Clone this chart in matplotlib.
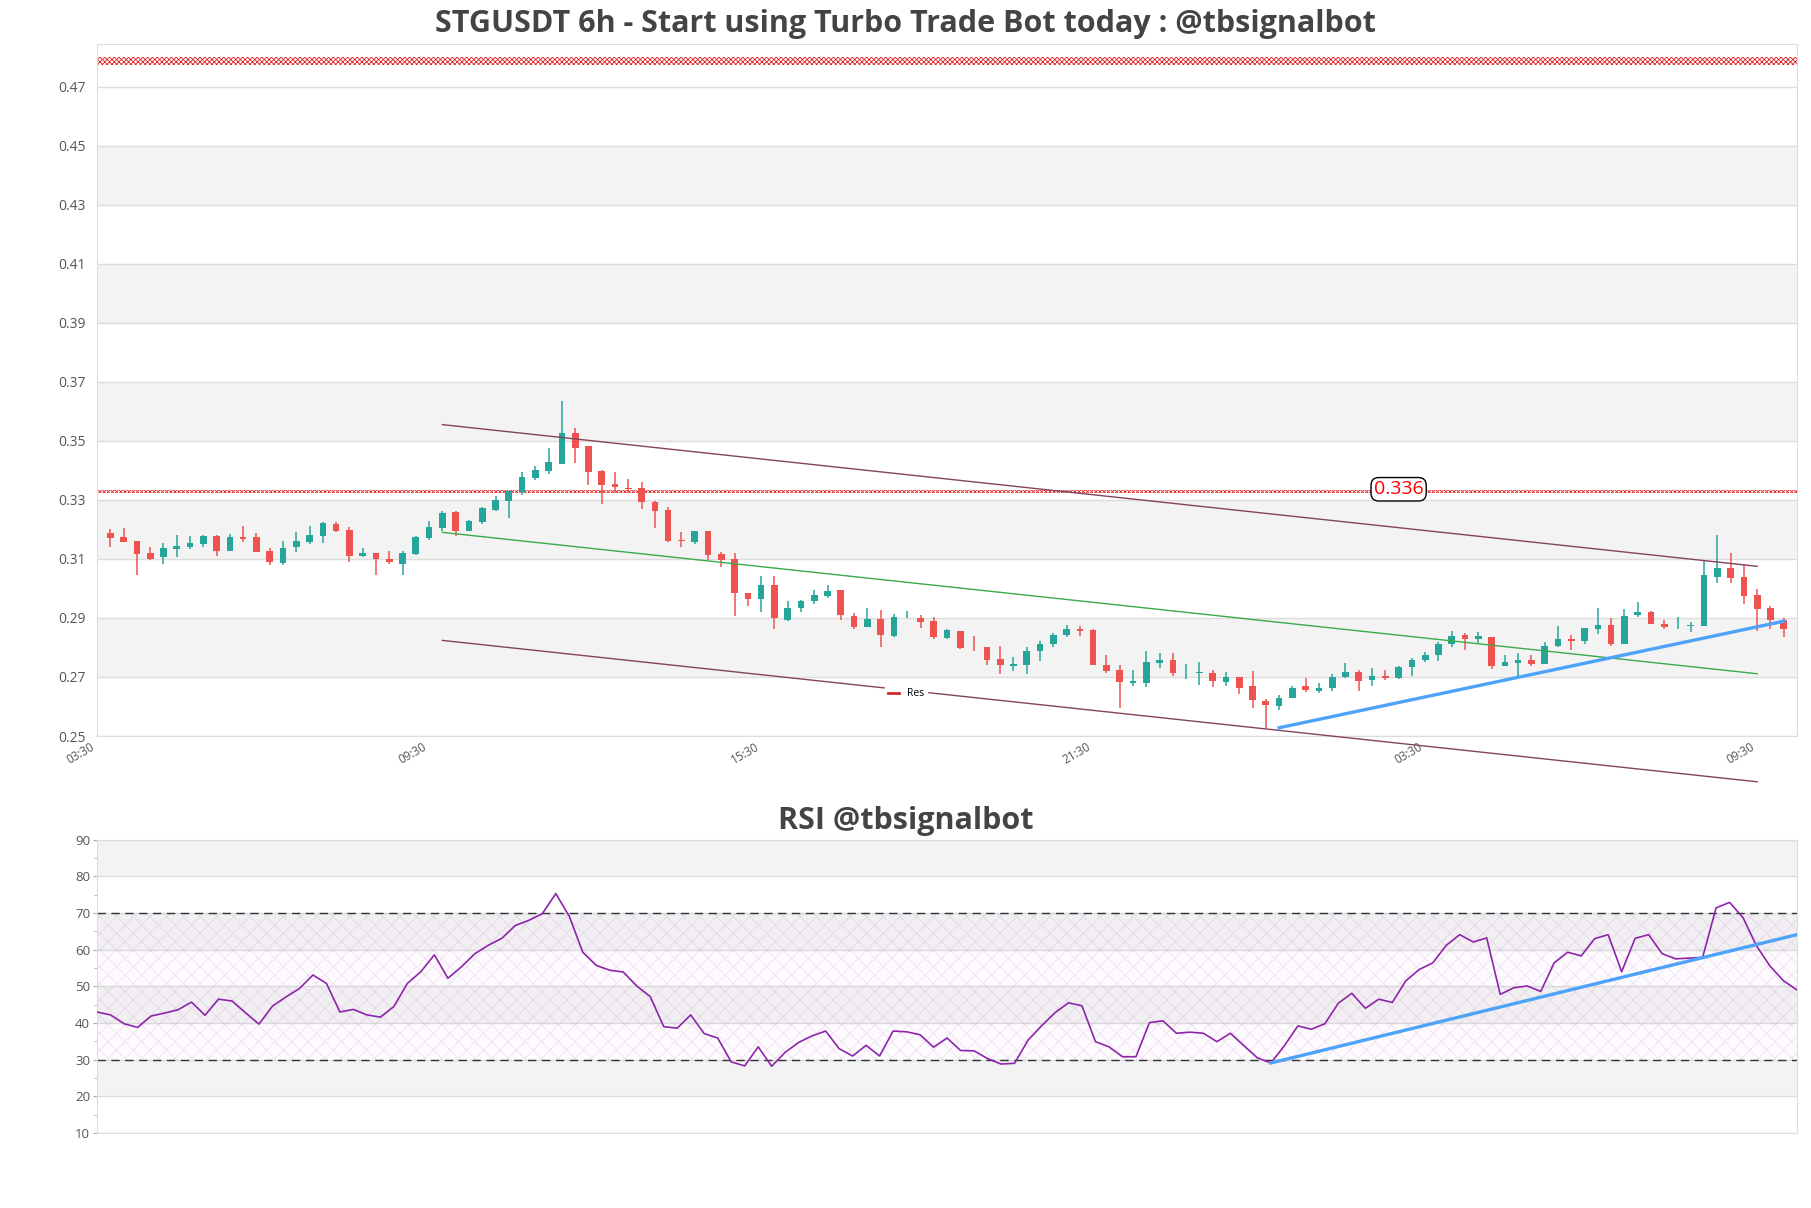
import matplotlib
matplotlib.use("Agg")
import matplotlib.pyplot as plt
import numpy as np
from matplotlib.lines import Line2D
from matplotlib.ticker import MultipleLocator

plt.rcParams['font.family'] = ['Open Sans', 'DejaVu Sans']
plt.rcParams['hatch.linewidth'] = 0.6

# candles
opens = [0.3188, 0.3175, 0.3161, 0.3120, 0.3105, 0.3135, 0.3141, 0.3152, 0.3178, 0.3128,
         0.3175, 0.3175, 0.3127, 0.3087, 0.3139, 0.3159, 0.3179, 0.3218, 0.3198, 0.3111,
         0.3120, 0.3101, 0.3084, 0.3117, 0.3172, 0.3206, 0.3259, 0.3196, 0.3226, 0.3266,
         0.3297, 0.3327, 0.3374, 0.3399, 0.3423, 0.3526, 0.3483, 0.3398, 0.3354, 0.3339,
         0.3340, 0.3293, 0.3266, 0.3163, 0.3159, 0.3195, 0.3117, 0.3100, 0.2984, 0.2963,
         0.3012, 0.2894, 0.2934, 0.2958, 0.2975, 0.2995, 0.2908, 0.2871, 0.2898, 0.2840,
         0.2899, 0.2901, 0.2891, 0.2833, 0.2857, 0.2803, 0.2803, 0.2762, 0.2736, 0.2740,
         0.2787, 0.2811, 0.2841, 0.2864, 0.2860, 0.2742, 0.2723, 0.2680, 0.2680, 0.2748,
         0.2756, 0.2713, 0.2715, 0.2715, 0.2682, 0.2700, 0.2668, 0.2619, 0.2601, 0.2629,
         0.2668, 0.2653, 0.2662, 0.2700, 0.2718, 0.2689, 0.2705, 0.2695, 0.2733, 0.2756,
         0.2773, 0.2813, 0.2841, 0.2828, 0.2837, 0.2736, 0.2748, 0.2756, 0.2744, 0.2806,
         0.2829, 0.2821, 0.2864, 0.2877, 0.2811, 0.2909, 0.2920, 0.2881, 0.2872, 0.2874,
         0.2874, 0.3039, 0.3070, 0.3039, 0.2979, 0.2935, 0.2894]
highs = [0.3202, 0.3205, 0.3161, 0.3141, 0.3154, 0.3181, 0.3178, 0.3182, 0.3180, 0.3185,
         0.3212, 0.3187, 0.3137, 0.3161, 0.3191, 0.3212, 0.3225, 0.3225, 0.3207, 0.3137,
         0.3120, 0.3127, 0.3128, 0.3178, 0.3230, 0.3261, 0.3261, 0.3232, 0.3275, 0.3312,
         0.3330, 0.3393, 0.3414, 0.3475, 0.3635, 0.3543, 0.3483, 0.3400, 0.3393, 0.3371,
         0.3360, 0.3296, 0.3275, 0.3191, 0.3195, 0.3195, 0.3124, 0.3119, 0.2984, 0.3043,
         0.3041, 0.2957, 0.2962, 0.2994, 0.3011, 0.2995, 0.2916, 0.2935, 0.2928, 0.2914,
         0.2925, 0.2910, 0.2903, 0.2864, 0.2857, 0.2840, 0.2803, 0.2806, 0.2767, 0.2800,
         0.2823, 0.2850, 0.2877, 0.2874, 0.2864, 0.2773, 0.2742, 0.2723, 0.2787, 0.2783,
         0.2783, 0.2743, 0.2750, 0.2723, 0.2717, 0.2700, 0.2720, 0.2625, 0.2640, 0.2669,
         0.2695, 0.2681, 0.2709, 0.2747, 0.2723, 0.2731, 0.2724, 0.2738, 0.2766, 0.2784,
         0.2820, 0.2857, 0.2848, 0.2854, 0.2837, 0.2776, 0.2783, 0.2773, 0.2819, 0.2874,
         0.2843, 0.2866, 0.2935, 0.2900, 0.2930, 0.2954, 0.2923, 0.2892, 0.2902, 0.2887,
         0.3095, 0.3181, 0.3121, 0.3079, 0.2999, 0.2941, 0.2901]
lows = [0.3139, 0.3159, 0.3046, 0.3098, 0.3084, 0.3108, 0.3132, 0.3139, 0.3110, 0.3128,
        0.3159, 0.3122, 0.3081, 0.3081, 0.3125, 0.3149, 0.3155, 0.3190, 0.3091, 0.3105,
        0.3046, 0.3084, 0.3044, 0.3115, 0.3164, 0.3196, 0.3179, 0.3196, 0.3218, 0.3261,
        0.3240, 0.3315, 0.3368, 0.3389, 0.3421, 0.3426, 0.3350, 0.3287, 0.3324, 0.3323,
        0.3269, 0.3206, 0.3158, 0.3139, 0.3152, 0.3095, 0.3074, 0.2905, 0.2939, 0.2919,
        0.2861, 0.2891, 0.2919, 0.2949, 0.2967, 0.2892, 0.2861, 0.2868, 0.2803, 0.2837,
        0.2899, 0.2867, 0.2828, 0.2828, 0.2794, 0.2789, 0.2740, 0.2709, 0.2720, 0.2709,
        0.2753, 0.2801, 0.2834, 0.2838, 0.2740, 0.2714, 0.2596, 0.2670, 0.2666, 0.2732,
        0.2703, 0.2693, 0.2672, 0.2666, 0.2669, 0.2643, 0.2596, 0.2526, 0.2588, 0.2629,
        0.2650, 0.2645, 0.2652, 0.2698, 0.2653, 0.2669, 0.2689, 0.2693, 0.2703, 0.2750,
        0.2753, 0.2802, 0.2791, 0.2813, 0.2726, 0.2736, 0.2699, 0.2736, 0.2744, 0.2802,
        0.2791, 0.2812, 0.2847, 0.2804, 0.2811, 0.2902, 0.2878, 0.2864, 0.2864, 0.2851,
        0.2872, 0.3019, 0.3019, 0.2949, 0.2856, 0.2864, 0.2834]
closes = [0.3172, 0.3159, 0.3118, 0.3101, 0.3137, 0.3144, 0.3154, 0.3178, 0.3128, 0.3175,
          0.3168, 0.3125, 0.3091, 0.3137, 0.3161, 0.3181, 0.3223, 0.3196, 0.3111, 0.3120,
          0.3101, 0.3091, 0.3120, 0.3175, 0.3208, 0.3256, 0.3196, 0.3229, 0.3273, 0.3300,
          0.3330, 0.3377, 0.3401, 0.3428, 0.3526, 0.3476, 0.3394, 0.3350, 0.3342, 0.3337,
          0.3294, 0.3264, 0.3161, 0.3161, 0.3195, 0.3115, 0.3098, 0.2983, 0.2963, 0.3012,
          0.2900, 0.2934, 0.2958, 0.2979, 0.2992, 0.2909, 0.2868, 0.2898, 0.2841, 0.2904,
          0.2901, 0.2887, 0.2837, 0.2860, 0.2797, 0.2800, 0.2757, 0.2740, 0.2744, 0.2789,
          0.2813, 0.2843, 0.2864, 0.2856, 0.2740, 0.2720, 0.2682, 0.2686, 0.2750, 0.2756,
          0.2713, 0.2715, 0.2717, 0.2687, 0.2700, 0.2662, 0.2623, 0.2605, 0.2629, 0.2663,
          0.2655, 0.2664, 0.2700, 0.2718, 0.2686, 0.2705, 0.2697, 0.2735, 0.2759, 0.2776,
          0.2812, 0.2839, 0.2828, 0.2840, 0.2736, 0.2752, 0.2756, 0.2744, 0.2805, 0.2829,
          0.2821, 0.2866, 0.2877, 0.2811, 0.2908, 0.2920, 0.2878, 0.2868, 0.2874, 0.2877,
          0.3045, 0.3070, 0.3037, 0.2976, 0.2931, 0.2892, 0.2864]

rsi = [43.0, 42.2, 39.8, 38.8, 41.9, 42.7, 43.6, 45.7, 42.1, 46.5,
       46.0, 42.8, 39.7, 44.6, 47.1, 49.4, 53.1, 50.8, 43.0, 43.7,
       42.2, 41.6, 44.5, 50.8, 54.0, 58.6, 52.2, 55.3, 58.9, 61.2,
       63.1, 66.6, 68.0, 69.8, 75.3, 69.1, 59.3, 55.7, 54.4, 53.9,
       50.1, 47.2, 39.0, 38.6, 42.2, 37.1, 35.9, 29.4, 28.3, 33.5,
       28.2, 32.0, 34.7, 36.5, 37.8, 33.0, 31.0, 33.9, 31.0, 37.8,
       37.6, 36.8, 33.4, 35.9, 32.5, 32.4, 30.3, 28.8, 29.0, 35.3,
       39.2, 42.8, 45.5, 44.7, 34.9, 33.5, 30.8, 30.8, 40.1, 40.6,
       37.2, 37.5, 37.2, 34.9, 37.2, 33.8, 30.5, 29.1, 33.8, 39.2,
       38.3, 39.8, 45.4, 48.1, 44.0, 46.5, 45.6, 51.5, 54.6, 56.4,
       61.2, 64.1, 62.1, 63.2, 47.8, 49.6, 50.1, 48.6, 56.4, 59.3,
       58.3, 63.0, 64.1, 54.0, 63.1, 64.1, 58.9, 57.5, 57.7, 57.9,
       71.4, 72.9, 68.7, 61.0, 55.5, 51.5, 49.0]

tick_pos = [-1, 24, 49, 74, 99, 124]
tick_labels = ["03:30", "09:30", "15:30", "21:30", "03:30", "09:30"]
price_ticks = [0.25, 0.27, 0.29, 0.31, 0.33, 0.35, 0.37, 0.39, 0.41, 0.43, 0.45, 0.47]

# levels and trend lines
res_top = (0.4773, 0.4800)
res_mid = (0.3322, 0.3335)
res_label = "0.336"
chan_x = [25, 124]
chan_upper = [0.3555, 0.3075]
chan_mid = [0.3190, 0.2711]
chan_lower = [0.2824, 0.2345]
trend_x = [88, 126]
trend_y = [0.2528, 0.2889]
rsi_trend_x = [87, 126]
rsi_trend_y = [29.1, 64.1]

GREEN = "#26a69a"
RED = "#ef5350"
BAND = "#f3f3f3"
GRID = "#dddddd"
TXT = "#555555"

fig = plt.figure(figsize=(18.11, 12.08), dpi=100)
ax = fig.add_axes([0.0536, 0.3907, 0.9387, 0.5730])
ax2 = fig.add_axes([0.0536, 0.0621, 0.9387, 0.2428])

n = len(opens)
x = np.arange(n)
o = np.array(opens); c = np.array(closes)
up = c >= o
colors = np.where(up, GREEN, RED)

ax.set_xlim(-1, n)
ax.set_ylim(0.25, 0.4845)
for lo in [0.27, 0.31, 0.35, 0.39, 0.43]:
    ax.axhspan(lo, lo + 0.02, color=BAND, lw=0, zorder=0)
for t in price_ticks:
    ax.axhline(t, color=GRID, lw=1, zorder=0.5)

ax.vlines(x, lows, highs, colors=colors, lw=1.1, zorder=3)
body = np.maximum(np.abs(c - o), 0.00022)
ax.bar(x, body, width=0.5, bottom=np.minimum(o, c), color=colors, lw=0, zorder=4)

# resistance bands
ax.fill_between([-1, n], res_top[0], res_top[1], facecolor="white", edgecolor="#e02020",
                hatch="x" * 7, lw=0, zorder=2)
ax.fill_between([-1, n], res_mid[0], res_mid[1], facecolor="white", edgecolor="#e02020",
                hatch="x" * 8, lw=0, zorder=2)
ax.text(97, 0.3336, res_label, color="red", fontsize=14, ha="center", va="center", zorder=6,
        bbox=dict(boxstyle="round,pad=0.14,rounding_size=0.4", fc="white", ec="black", lw=1))

ax.plot(chan_x, chan_upper, color="#84435f", lw=1.0, zorder=5, clip_on=False)
ax.plot(chan_x, chan_mid, color="#3aaa4a", lw=1.0, zorder=5, clip_on=False)
ax.plot(chan_x, chan_lower, color="#84435f", lw=1.0, zorder=5, clip_on=False)
ax.plot(trend_x, trend_y, color="#4da3f7", lw=2.4, zorder=5)

leg = ax.legend([Line2D([], [], color="#d62728", lw=2)], ["Res"], loc="center",
                bbox_to_anchor=(0.476, 0.061), fontsize=7.5, frameon=True, handlelength=1.0,
                borderpad=0.3)
leg.get_frame().set_facecolor("white")
leg.get_frame().set_edgecolor("white")
leg.get_frame().set_alpha(1)
leg.set_zorder(7)

ax.set_yticks(price_ticks)
ax.set_yticklabels([f"{t:.2f}" for t in price_ticks])
ax.set_xticks(tick_pos)
ax.set_xticklabels(tick_labels, rotation=30, ha="right")
ax.tick_params(axis="y", length=0, labelsize=10, colors=TXT, pad=8)
ax.tick_params(axis="x", length=0, labelsize=8.5, colors=TXT, pad=3)
for s in ax.spines.values():
    s.set_color(GRID)

fig.text(0.5, 0.980, "STGUSDT 6h - Start using Turbo Trade Bot today : @tbsignalbot",
         ha="center", va="center", fontsize=22, fontweight="bold", color="#444444")

# RSI panel
ax2.set_xlim(0, n - 1)
ax2.set_ylim(10, 90)
for lo in [20, 40, 60, 80]:
    ax2.axhspan(lo, lo + 10, color=BAND, lw=0, zorder=0)
for t in range(10, 91, 10):
    ax2.axhline(t, color=GRID, lw=1, zorder=0.5)
ax2.fill_between([0, n - 1], 30, 70, facecolor=(0.6, 0.2, 0.6, 0.015),
                 edgecolor=(0.72, 0.5, 0.78, 0.22), hatch="xx", lw=0, zorder=1)
ax2.axhline(30, color="#333333", lw=1, ls=(0, (6, 4)), zorder=2)
ax2.axhline(70, color="#333333", lw=1, ls=(0, (6, 4)), zorder=2)
ax2.plot(x, rsi, color="#8e24aa", lw=1.2, zorder=4)
ax2.plot(rsi_trend_x, rsi_trend_y, color="#4da3f7", lw=2.4, zorder=5)

ax2.yaxis.set_major_locator(MultipleLocator(10))
ax2.yaxis.set_minor_locator(MultipleLocator(5))
ax2.set_xticks([])
ax2.tick_params(axis="y", which="major", length=3, labelsize=9.5, colors=TXT, pad=2)
ax2.tick_params(axis="y", which="minor", length=2, colors="#aaaaaa")
ax2.tick_params(axis="y", which="major", color="#aaaaaa")
for s in ax2.spines.values():
    s.set_color(GRID)

fig.text(0.5, 0.320, "RSI @tbsignalbot", ha="center", va="center", fontsize=22,
         fontweight="bold", color="#444444")

fig.savefig("out.png", dpi=100)
